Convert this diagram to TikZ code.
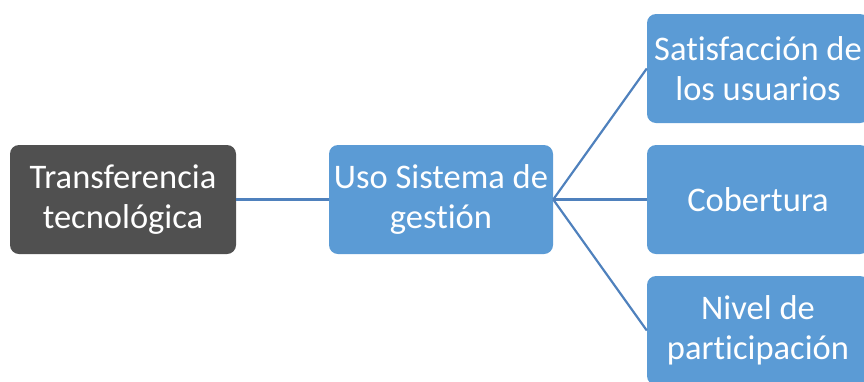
\documentclass[tikz,border=0pt]{standalone}
\usepackage{fontspec}
\setmainfont[Ligatures={NoCommon}]{Carlito}
\definecolor{boxblue}{HTML}{5B9BD5}
\definecolor{boxdark}{HTML}{505050}
\definecolor{linkblue}{HTML}{4F81BD}
\begin{document}
\begin{tikzpicture}[x=1pt,y=-1pt,
  box/.style={rectangle, rounded corners=9pt, minimum width=224pt, minimum height=109pt,
    inner sep=0pt, text=white, align=center, font=\fontsize{34.5}{39.5}\selectfont},
  bluebox/.style={box, fill=boxblue},
  darkbox/.style={box, fill=boxdark},
  link/.style={draw=linkblue, line width=2.2pt}]
\useasboundingbox (0,0) rectangle (864,381);
\clip (0,0) rectangle (864,381);
\node[darkbox, minimum width=226pt] (tt) at (123,199.5) {Transferencia\\tecnológica};
\node[bluebox] (uso) at (441,199.5) {Uso Sistema de\\gestión};
\node[bluebox, minimum width=222pt] (sat) at (758,68.5) {Satisfacción de\\los usuarios};
\node[bluebox, minimum width=222pt] (cob) at (758,199.5) {Cobertura};
\node[bluebox, minimum width=222pt] (niv) at (758,330.5) {Nivel de\\participación};
\draw[link] (tt.east) -- (uso.west);
\draw[link] (uso.east) -- (sat.west);
\draw[link] (uso.east) -- (cob.west);
\draw[link] (uso.east) -- (niv.west);
\end{tikzpicture}
\end{document}
